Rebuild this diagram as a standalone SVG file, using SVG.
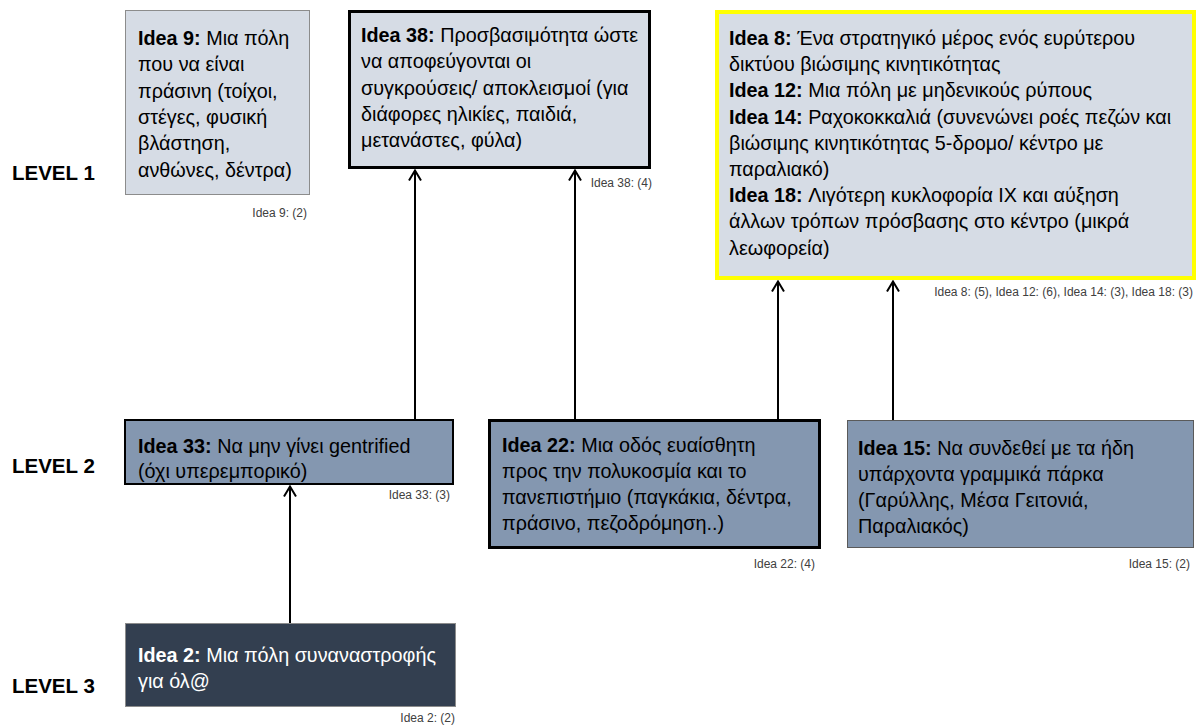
<svg xmlns="http://www.w3.org/2000/svg" width="1198" height="726" viewBox="0 0 1198 726">
<style>
.t{font-family:"Liberation Sans",Arial,sans-serif;font-size:19.8px;fill:#000}
.w{fill:#fff}
.b{font-weight:bold}
.lv{font-family:"Liberation Sans",Arial,sans-serif;font-size:20.5px;font-weight:bold;fill:#000}
.lb{font-family:"Liberation Sans",Arial,sans-serif;font-size:12px;fill:#404040;text-anchor:end}
.light{fill:#D6DCE5}
.mid{fill:#8497B0}
.dark{fill:#333F50}
.conn line{stroke:#000;stroke-width:2;fill:none;marker-end:url(#ah)}
</style>
<defs>
<marker id="ah" viewBox="0 0 13 14" refX="11.5" refY="7" markerWidth="13" markerHeight="14" markerUnits="userSpaceOnUse" orient="auto">
<path d="M1,1 L11,7 L1,13" fill="none" stroke="#000" stroke-width="2"/>
</marker>
</defs>
<rect width="1198" height="726" fill="#fff"/>
<g id="levels">
<text class="lv" x="12" y="180">LEVEL 1</text>
<text class="lv" x="12" y="473">LEVEL 2</text>
<text class="lv" x="12" y="693">LEVEL 3</text>
</g>
<g class="conn" id="connectors">
<line x1="290" y1="623" x2="290" y2="486"/>
<line x1="415" y1="420" x2="415" y2="170"/>
<line x1="575" y1="420" x2="575" y2="170"/>
<line x1="778" y1="420" x2="778" y2="281"/>
<line x1="893" y1="420" x2="893" y2="281"/>
</g>
<g id="idea9">
<rect class="light" x="125.5" y="10.5" width="184" height="184" stroke="#8C8C8C" stroke-width="1"/>
<text class="t"><tspan x="138" y="45"><tspan class="b">Idea 9:</tspan> Μια πόλη</tspan><tspan x="138" y="71">που να είναι</tspan><tspan x="138" y="98">πράσινη (τοίχοι,</tspan><tspan x="138" y="124">στέγες, φυσική</tspan><tspan x="138" y="150">βλάστηση,</tspan><tspan x="138" y="177">ανθώνες, δέντρα)</tspan></text>
<text class="lb" x="307" y="217">Idea 9: (2)</text>
</g>
<g id="idea38">
<rect class="light" x="349.5" y="11.5" width="300" height="156" stroke="#000" stroke-width="3"/>
<text class="t"><tspan x="361" y="42"><tspan class="b">Idea 38:</tspan> Προσβασιμότητα ώστε</tspan><tspan x="361" y="68">να αποφεύγονται οι</tspan><tspan x="361" y="95">συγκρούσεις/ αποκλεισμοί (για</tspan><tspan x="361" y="121">διάφορες ηλικίες, παιδιά,</tspan><tspan x="361" y="147">μετανάστες, φύλα)</tspan></text>
<text class="lb" x="652" y="187">Idea 38: (4)</text>
</g>
<g id="idea8">
<rect class="light" x="717" y="12" width="477" height="266" stroke="#FFFF00" stroke-width="4"/>
<text class="t"><tspan x="729" y="45"><tspan class="b">Idea 8:</tspan> Ένα στρατηγικό μέρος ενός ευρύτερου</tspan><tspan x="729" y="71">δικτύου βιώσιμης κινητικότητας</tspan><tspan x="729" y="97"><tspan class="b">Idea 12:</tspan> Μια πόλη με μηδενικούς ρύπους</tspan><tspan x="729" y="124"><tspan class="b">Idea 14:</tspan> Ραχοκοκκαλιά (συνενώνει ροές πεζών και</tspan><tspan x="729" y="150">βιώσιμης κινητικότητας 5-δρομο/ κέντρο με</tspan><tspan x="729" y="176">παραλιακό)</tspan><tspan x="729" y="202"><tspan class="b">Idea 18:</tspan> Λιγότερη κυκλοφορία ΙΧ και αύξηση</tspan><tspan x="729" y="228">άλλων τρόπων πρόσβασης στο κέντρο (μικρά</tspan><tspan x="729" y="255">λεωφορεία)</tspan></text>
<text class="lb" x="1193" y="296">Idea 8: (5), Idea 12: (6), Idea 14: (3), Idea 18: (3)</text>
</g>
<g id="idea33">
<rect class="mid" x="125" y="420" width="328" height="64" stroke="#000" stroke-width="2"/>
<text class="t"><tspan x="138" y="453"><tspan class="b">Idea 33:</tspan> Να μην γίνει gentrified</tspan><tspan x="138" y="478">(όχι υπερεμπορικό)</tspan></text>
<text class="lb" x="450" y="499">Idea 33: (3)</text>
</g>
<g id="idea22">
<rect class="mid" x="489.5" y="420.5" width="330" height="127" stroke="#000" stroke-width="3"/>
<text class="t"><tspan x="502" y="452"><tspan class="b">Idea 22:</tspan> Μια οδός ευαίσθητη</tspan><tspan x="502" y="478">προς την πολυκοσμία και το</tspan><tspan x="502" y="504">πανεπιστήμιο (παγκάκια, δέντρα,</tspan><tspan x="502" y="530">πράσινο, πεζοδρόμηση..)</tspan></text>
<text class="lb" x="815" y="568">Idea 22: (4)</text>
</g>
<g id="idea15">
<rect class="mid" x="847.5" y="420.5" width="346" height="127" stroke="#5A5A5A" stroke-width="1"/>
<text class="t"><tspan x="858" y="455"><tspan class="b">Idea 15:</tspan> Να συνδεθεί με τα ήδη</tspan><tspan x="858" y="481">υπάρχοντα γραμμικά πάρκα</tspan><tspan x="858" y="507">(Γαρύλλης, Μέσα Γειτονιά,</tspan><tspan x="858" y="533">Παραλιακός)</tspan></text>
<text class="lb" x="1190" y="568">Idea 15: (2)</text>
</g>
<g id="idea2">
<rect class="dark" x="125.5" y="623.5" width="330" height="83" stroke="#8C8C8C" stroke-width="1"/>
<text class="t w"><tspan x="138" y="662"><tspan class="b">Idea 2:</tspan> Μια πόλη συναναστροφής</tspan><tspan x="138" y="688">για όλ@</tspan></text>
<text class="lb" x="455" y="722">Idea 2: (2)</text>
</g>
</svg>
